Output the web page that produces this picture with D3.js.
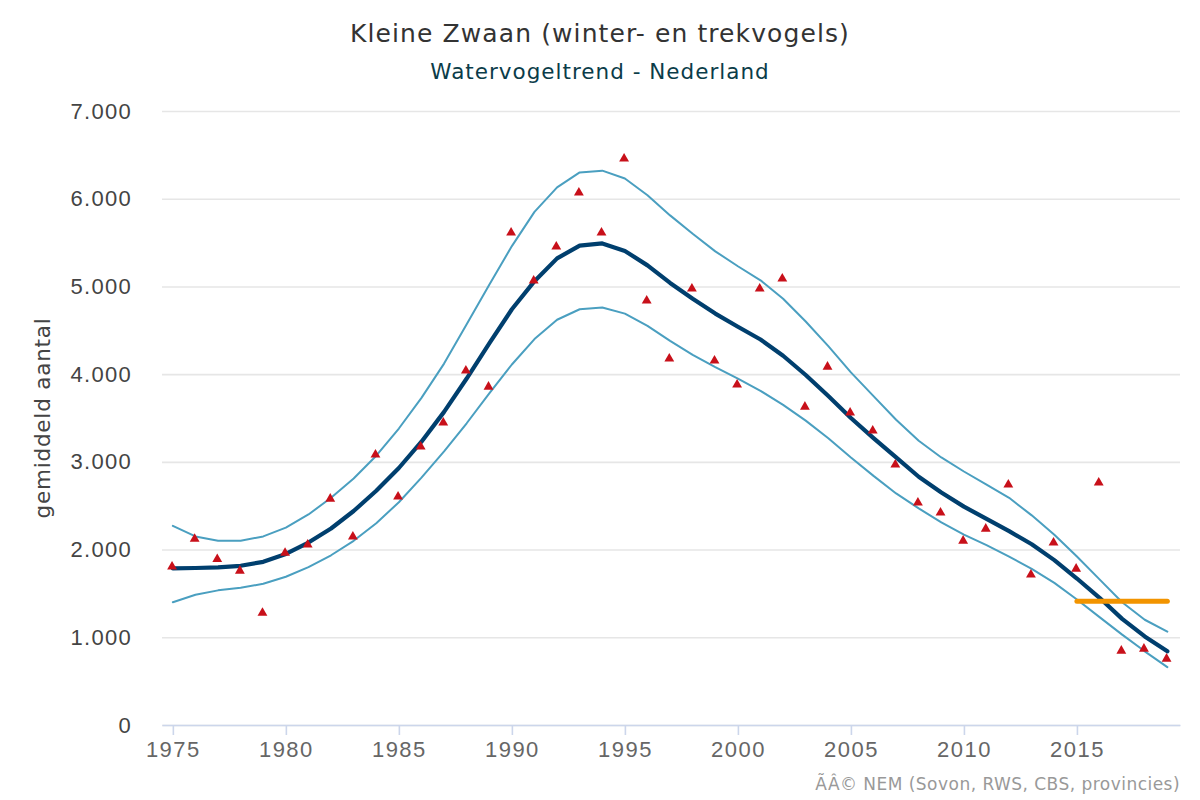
<!DOCTYPE html>
<html>
<head>
<meta charset="utf-8">
<title>Kleine Zwaan</title>
<script src="https://cdn.jsdelivr.net/npm/d3@7"></script>
<style>
  html, body { margin: 0; padding: 0; background: #fff; }
  svg { display: block; font-family: "DejaVu Sans", sans-serif; }
</style>
</head>
<body>
<div id="chart"></div>
<script>
// values
var years = d3.range(1975, 2020);
var trend = [1785, 1790, 1797, 1815, 1860, 1950, 2080, 2240, 2440, 2670, 2930, 3230, 3570, 3950, 4350,
  4740, 5060, 5320, 5465, 5490, 5405, 5240, 5040, 4860, 4690, 4540, 4395, 4210, 3990, 3750, 3500,
  3270, 3050, 2830, 2650, 2490, 2350, 2210, 2060, 1880, 1670, 1450, 1210, 1010, 840];
var upper = [2270, 2150, 2100, 2100, 2150, 2250, 2400, 2590, 2810, 3070, 3380, 3730, 4120, 4570, 5020,
  5460, 5850, 6130, 6300, 6320, 6230, 6040, 5810, 5600, 5400, 5230, 5070, 4860, 4600, 4320, 4020,
  3750, 3480, 3240, 3050, 2890, 2740, 2590, 2390, 2170, 1920, 1660, 1400, 1200, 1065];
var lower = [1400, 1485, 1535, 1565, 1610, 1690, 1800, 1935, 2100, 2300, 2540, 2820, 3120, 3440, 3780,
  4110, 4400, 4620, 4740, 4760, 4690, 4550, 4380, 4220, 4080, 3950, 3810, 3650, 3470, 3270, 3050,
  2840, 2640, 2470, 2310, 2170, 2050, 1920, 1780, 1620, 1430, 1230, 1030, 840, 660];
var counts = [1813, 2130, 1900, 1767, 1288, 1972, 2064, 2588, 2155, 3090, 2611, 3181, 3455, 4048, 3865,
  5621, 5074, 5462, 6078, 5621, 6465, 4846, 4185, 4983, 4162, 3888, 4983, 5097, 3637, 4093, 3569,
  3364, 2976, 2543, 2429, 2109, 2246, 2748, 1722, 2087, 1790, 2771, 855, 878, 764];
var refYears = [2015, 2019];
var refValues = [1410, 1410];
var xTicks = [1975, 1980, 1985, 1990, 1995, 2000, 2005, 2010, 2015];
var yTicks = [0, 1000, 2000, 3000, 4000, 5000, 6000, 7000];

var width = 1200;
var height = 800;
var margin = { top: 111, right: 20, bottom: 75, left: 162 };

var svg = d3.select("#chart")
  .append("svg")
  .attr("width", width)
  .attr("height", height);

var chartWidth = width - margin.left - margin.right;
var chartHeight = height - margin.top - margin.bottom;

var chartGroup = svg.append("g")
  .attr("transform", `translate(${margin.left}, ${margin.top})`);

var x = d3.scaleLinear().domain([1974.52, 2019.56]).range([0, chartWidth]);
var y = d3.scaleLinear().domain([0, 7000]).range([chartHeight, 0]);

// dots as thousands separator
var nl = d3.formatLocale({ decimal: ",", thousands: ".", grouping: [3], currency: ["€", ""] });

// y axis with gridlines
var yAxis = chartGroup.append("g")
  .call(d3.axisLeft(y).tickValues(yTicks).tickSize(-chartWidth).tickPadding(30).tickFormat(nl.format(",d")));
yAxis.select(".domain").remove();
yAxis.selectAll("line").attr("stroke", "#e6e6e6").attr("stroke-width", 1.6);
yAxis.selectAll("text").attr("fill", "#444").style("font-size", "22px").style("letter-spacing", "1.3px");

// x axis
var xAxis = chartGroup.append("g")
  .attr("transform", `translate(0,${chartHeight})`)
  .call(d3.axisBottom(x).tickValues(xTicks).tickSizeInner(10).tickSizeOuter(0).tickPadding(6).tickFormat(d3.format("d")));
xAxis.select(".domain").attr("stroke", "#ccd6eb").attr("stroke-width", 1.6);
xAxis.selectAll("line").attr("stroke", "#ccd6eb").attr("stroke-width", 1.6);
xAxis.selectAll("text").attr("fill", "#666").style("font-size", "22px").style("letter-spacing", "1.5px");

function drawLine(values, color, w) {
  var line = d3.line()
    .x((d, i) => x(years[i]))
    .y(d => y(d));
  chartGroup.append("path")
    .attr("d", line(values))
    .attr("fill", "none")
    .attr("stroke", color)
    .attr("stroke-width", w)
    .attr("stroke-linejoin", "round")
    .attr("stroke-linecap", "round");
}

drawLine(upper, "#4a9fc0", 2);
drawLine(lower, "#4a9fc0", 2);
drawLine(trend, "#003f6e", 4.2);

// reference level, recent years
var refLine = d3.line()
  .x((d, i) => x(refYears[i]))
  .y(d => y(d));
chartGroup.append("path")
  .attr("d", refLine(refValues))
  .attr("fill", "none")
  .attr("stroke", "#f29400")
  .attr("stroke-width", 5)
  .attr("stroke-linecap", "round");

// yearly counts
chartGroup.selectAll(".count")
  .data(counts)
  .enter()
  .append("path")
  .attr("class", "count")
  .attr("d", d3.symbol().type(d3.symbolTriangle).size(42))
  .attr("transform", (d, i) => `translate(${x(years[i]) - 0.8},${y(d) + 0.8})`)
  .attr("fill", "#c8101a");

// titles
svg.append("text")
  .attr("x", 600).attr("y", 42)
  .attr("text-anchor", "middle")
  .attr("fill", "#333")
  .style("font-size", "25px")
  .style("letter-spacing", "1.1px")
  .text("Kleine Zwaan (winter- en trekvogels)");

svg.append("text")
  .attr("x", 600).attr("y", 79)
  .attr("text-anchor", "middle")
  .attr("fill", "#0b3c49")
  .style("font-size", "21.5px")
  .style("letter-spacing", "1px")
  .text("Watervogeltrend - Nederland");

svg.append("text")
  .attr("transform", "translate(50,418) rotate(-90)")
  .attr("text-anchor", "middle")
  .attr("fill", "#444")
  .style("font-size", "21.5px")
  .style("letter-spacing", "0.8px")
  .text("gemiddeld aantal");

svg.append("text")
  .attr("x", 1180).attr("y", 790)
  .attr("text-anchor", "end")
  .attr("fill", "#999")
  .style("font-size", "17px")
  .style("letter-spacing", "0.47px")
  .text("ÃÂ© NEM (Sovon, RWS, CBS, provincies)");
</script>
</body>
</html>
